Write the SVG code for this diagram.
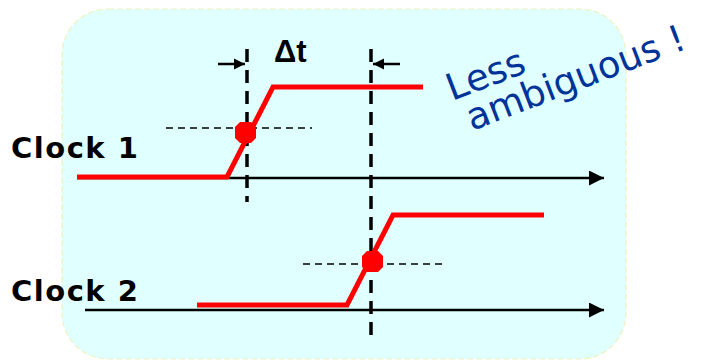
<svg xmlns="http://www.w3.org/2000/svg" width="705" height="361" viewBox="0 0 705 361">
<style>
.sig{fill:none;stroke:#ff0000;stroke-width:5;stroke-linejoin:miter}
.axis{fill:none;stroke:#000;stroke-width:2.5}
.vdash{stroke:#000;stroke-width:3.5;stroke-dasharray:13 8}
.hdash{stroke:#000;stroke-width:1.6;stroke-dasharray:7 5}
.lbl{font-family:"DejaVu Sans",sans-serif;font-weight:bold;font-size:29px;letter-spacing:1.5px;fill:#000}
.blue{font-family:"DejaVu Sans",sans-serif;font-size:37px;fill:#003399}
</style>
<defs>
<marker id="ah" viewBox="0 0 10 10" refX="10" refY="5" markerWidth="6" markerHeight="6" orient="auto" markerUnits="strokeWidth">
<path d="M0,0 L10,5 L0,10 z" fill="#000"/>
</marker>
<marker id="ah2" viewBox="0 0 10 10" refX="10" refY="5" markerWidth="4.5" markerHeight="4.5" orient="auto" markerUnits="strokeWidth">
<path d="M0,0 L10,5 L0,10 z" fill="#000"/>
</marker>
</defs>
<rect id="panel" x="62" y="9" width="564" height="350" rx="46" ry="46" fill="#e0ffff" stroke="#f0f0c0" stroke-width="1.2" stroke-dasharray="6 3"/>
<g id="connectors">
<line class="axis" x1="77" y1="178" x2="604" y2="178" marker-end="url(#ah)"/>
<line class="axis" x1="85" y1="310" x2="604" y2="310" marker-end="url(#ah)"/>
<line class="vdash" x1="247" y1="49" x2="247" y2="202"/>
<line class="vdash" x1="371" y1="49" x2="371" y2="340"/>
<line class="hdash" x1="166" y1="128" x2="312" y2="128"/>
<line class="hdash" x1="303" y1="264" x2="447" y2="264"/>
<line stroke="#000" stroke-width="2.5" x1="218" y1="64" x2="245" y2="64" marker-end="url(#ah2)"/>
<line stroke="#000" stroke-width="2.5" x1="400" y1="64" x2="373" y2="64" marker-end="url(#ah2)"/>
</g>
<g id="clock1">
<polyline class="sig" points="77,177 227,177 273,87 423,87"/>
<polygon fill="#ff0000" points="240,122 251,122 256,127 256,138 251,143 240,143 235,138 235,127"/>
<text class="lbl" x="11" y="158">Clock 1</text>
</g>
<g id="clock2">
<polyline class="sig" points="197,305 347,305 393,215 544,215"/>
<polygon fill="#ff0000" points="367,251 378,251 383,256 383,267 378,272 367,272 362,267 362,256"/>
<text class="lbl" x="11" y="301">Clock 2</text>
</g>
<g id="delta">
<text x="274" y="62" font-family="Liberation Sans, Arial, sans-serif" font-weight="bold" font-size="31" fill="#000">Δt</text>
</g>
<g id="note">
<text class="blue" transform="translate(452,101) rotate(-21)">Less</text>
<text class="blue" transform="translate(472,131) rotate(-21)">ambiguous !</text>
</g>
</svg>
